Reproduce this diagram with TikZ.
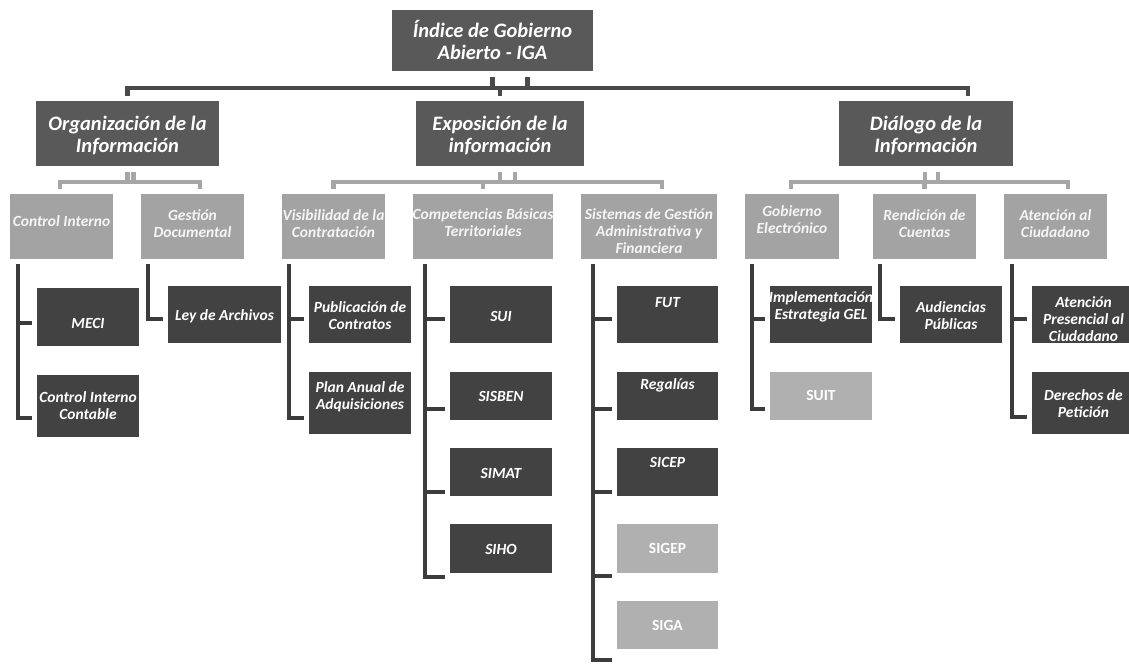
\documentclass[tikz,border=0pt]{standalone}
\usepackage{fontspec}
\setmainfont{Carlito}
\definecolor{rootc}{HTML}{595959}
\definecolor{leafc}{HTML}{424242}
\definecolor{lvlc}{HTML}{A3A3A3}
\definecolor{litec}{HTML}{B0B0B0}
\definecolor{lonec}{HTML}{4A4A4A}
\definecolor{ltwoc}{HTML}{A6A6A6}
\definecolor{brc}{HTML}{3C3C3C}
\tikzset{
 boxbase/.style={inner sep=0pt, outer sep=0pt, draw=none},
 rootbox/.style={boxbase, fill=rootc},
 rootboxT/.style={font=\fontsize{20.5}{22}\selectfont\bfseries\itshape, text=white, align=center, inner sep=0pt},
 lvlbox/.style={boxbase, fill=lvlc},
 lvlboxT/.style={font=\fontsize{15.5}{17}\selectfont\bfseries\itshape, text=white!96!black, align=center, inner sep=0pt},
 leafbox/.style={boxbase, fill=leafc},
 leafboxT/.style={font=\fontsize{15.5}{17}\selectfont\bfseries\itshape, text=white, align=center, inner sep=0pt},
 litebox/.style={boxbase, fill=litec},
 liteboxT/.style={font=\fontsize{15.5}{17}\selectfont\bfseries, text=white, align=center, inner sep=0pt},
 lone/.style={draw=lonec, line width=4.5pt},
 ltwo/.style={draw=ltwoc, line width=4.5pt},
 branch/.style={draw=brc, line width=4.5pt, line join=miter},
}
% style, name, x1, y1, x2, y2, text offset (px down), text
\newcommand\bx[8]{%
 \node[#1, minimum width={(#5-#3)*1pt}, minimum height={(#6-#4)*1pt}] (#2) at ({(#3+#5)/2},{(#4+#6)/2}) {};
 \node[#1T] (#2-t) at ([yshift={-1pt*(#7)}]#2.center) {#8};
}
% trunk coordinate, child, tick offset above child's bottom
\newcommand\br[3]{\draw[branch] (#1) |- ([xshift=-5pt,yshift=#3pt]#2.south west);}
\begin{document}
\begin{tikzpicture}[x=1pt,y=-1pt]
\useasboundingbox (0,0) rectangle (1129,664);
\fill[white] (0,0) rectangle (1129,664);
\clip (0,0) rectangle (1129,664);

% root and level 2
\bx{rootbox}{root}{392}{10}{593}{71}{-1}{Índice de Gobierno\\Abierto - IGA}
\bx{rootbox}{org}{36}{101}{219}{166}{1.5}{Organización de la\\Información}
\bx{rootbox}{exp}{416}{101}{584}{166}{1.5}{Exposición de la\\información}
\bx{rootbox}{dia}{839}{101}{1013}{166}{1.5}{Diálogo de la\\Información}

% level 3
\bx{lvlbox}{ci}{10}{194}{113}{259}{-5.5}{Control Interno}
\bx{lvlbox}{gd}{141}{194}{244}{259}{-3}{Gestión\\Documental}
\bx{lvlbox}{vis}{282}{194}{385}{259}{-3}{Visibilidad de la\\Contratación}
\bx{lvlbox}{comp}{413}{194}{553}{259}{-4}{Competencias Básicas\\Territoriales}
\bx{lvlbox}{sis}{581}{194}{717}{259}{4.5}{Sistemas de Gestión\\Administrativa y\\Financiera}
\bx{lvlbox}{gob}{745}{194}{839}{259}{-7}{Gobierno\\Electrónico}
\bx{lvlbox}{rend}{873}{194}{976}{259}{-3}{Rendición de\\Cuentas}
\bx{lvlbox}{aten}{1004}{194}{1107}{259}{-3}{Atención al\\Ciudadano}

% leaves
\bx{leafbox}{meci}{37}{288}{139}{346}{6}{MECI}
\bx{leafbox}{cic}{37}{375}{139}{437}{0}{Control Interno\\Contable}
\bx{leafbox}{ley}{168}{286}{281}{343}{1.5}{Ley de Archivos}
\bx{leafbox}{pub}{309}{286}{411}{343}{1}{Publicación de\\Contratos}
\bx{leafbox}{plan}{309}{372}{411}{434}{-6.5}{Plan Anual de\\Adquisiciones}
\bx{leafbox}{sui}{450}{286}{552}{343}{2}{SUI}
\bx{leafbox}{sisben}{450}{372}{552}{420}{0.5}{SISBEN}
\bx{leafbox}{simat}{450}{448}{552}{496}{1}{SIMAT}
\bx{leafbox}{siho}{450}{524}{552}{573}{0.5}{SIHO}
\bx{leafbox}{fut}{617}{286}{718}{343}{-11.5}{FUT}
\bx{leafbox}{reg}{617}{372}{718}{420}{-11}{Regalías}
\bx{leafbox}{sicep}{617}{448}{718}{496}{-10}{SICEP}
\bx{litebox}{sigep}{617}{524}{718}{573}{0}{SIGEP}
\bx{litebox}{siga}{617}{601}{718}{649}{0}{SIGA}
\bx{leafbox}{impl}{770}{286}{872}{343}{-7.5}{Implementación\\Estrategia GEL}
\bx{litebox}{suit}{770}{372}{872}{420}{-0.5}{SUIT}
\bx{leafbox}{aud}{900}{286}{1002}{343}{1.5}{Audiencias\\Públicas}
\bx{leafbox}{apc}{1032}{286}{1135}{343}{4.5}{Atención\\Presencial al\\Ciudadano}
\bx{leafbox}{der}{1032}{372}{1135}{434}{1}{Derechos de\\Petición}

% bus lines
\coordinate (busA) at (0,88);
\coordinate (busB) at (0,182);

% root -> level 2
\coordinate (rS1) at ([yshift=-6pt]root.south);
\coordinate (rS2) at ([xshift=35pt,yshift=-6pt]root.south);
\coordinate (orgD) at ([yshift=5pt]org.north);
\coordinate (expD) at ([yshift=5pt]exp.north);
\coordinate (diaD) at ([xshift=42pt,yshift=5pt]dia.north);
\draw[lone] (rS1) -- (rS1 |- busA);
\draw[lone] (orgD) -- (orgD |- busA) -- (rS2 |- busA);
\draw[lone] (rS2) -- (rS2 |- busA) -- (diaD |- busA) -- (diaD);
\draw[lone] (expD) -- (expD |- busA);

% Organizacion -> level 3
\coordinate (oS1) at ([yshift=-6pt]org.south);
\coordinate (oS2) at ([xshift=6pt,yshift=-6pt]org.south);
\coordinate (ciD) at ([xshift=-1.5pt,yshift=5pt]ci.north);
\coordinate (gdD) at ([xshift=7.5pt,yshift=5pt]gd.north);
\draw[ltwo] (oS1) -- (oS1 |- busB);
\draw[ltwo] (oS2) -- (oS2 |- busB);
\draw[ltwo] (ciD) -- (ciD |- busB) -- (gdD |- busB) -- (gdD);

% Exposicion -> level 3
\coordinate (eS1) at ([yshift=-6pt]exp.south);
\coordinate (eS2) at ([xshift=15pt,yshift=-6pt]exp.south);
\coordinate (visD) at ([yshift=5pt]vis.north);
\coordinate (compD) at ([yshift=5pt]comp.north);
\coordinate (sisD) at ([xshift=13pt,yshift=5pt]sis.north);
\draw[ltwo] (eS1) -- (eS1 |- busB);
\draw[ltwo] (eS2) -- (eS2 |- busB);
\draw[ltwo] (visD) -- (visD |- busB) -- (sisD |- busB) -- (sisD);
\draw[ltwo] (compD) -- (compD |- busB);

% Dialogo -> level 3
\coordinate (dS1) at ([xshift=-1pt,yshift=-6pt]dia.south);
\coordinate (dS2) at ([xshift=12pt,yshift=-6pt]dia.south);
\coordinate (gobD) at ([xshift=-1pt,yshift=5pt]gob.north);
\coordinate (rendD) at ([yshift=5pt]rend.north);
\coordinate (atenD) at ([xshift=12.5pt,yshift=5pt]aten.north);
\draw[ltwo] (dS1) -- (dS1 |- busB);
\draw[ltwo] (dS2) -- (dS2 |- busB);
\draw[ltwo] (gobD) -- (gobD |- busB) -- (atenD |- busB) -- (atenD);
\draw[ltwo] (rendD) -- (rendD |- busB);

% branch trunks (level 3 -> leaves)
\coordinate (ciT) at ([xshift=8pt,yshift=-5pt]ci.south west);
\coordinate (gdT) at ([xshift=7pt,yshift=-5pt]gd.south west);
\coordinate (visT) at ([xshift=7pt,yshift=-5pt]vis.south west);
\coordinate (compT) at ([xshift=12pt,yshift=-5pt]comp.south west);
\coordinate (sisT) at ([xshift=12pt,yshift=-5pt]sis.south west);
\coordinate (gobT) at ([xshift=7pt,yshift=-5pt]gob.south west);
\coordinate (rendT) at ([xshift=7pt,yshift=-5pt]rend.south west);
\coordinate (atenT) at ([xshift=8pt,yshift=-5pt]aten.south west);

\br{ciT}{meci}{23}
\br{ciT}{cic}{19}
\br{gdT}{ley}{24}
\br{visT}{pub}{24}
\br{visT}{plan}{16}
\br{compT}{sui}{24}
\br{compT}{sisben}{11}
\br{compT}{simat}{4}
\br{compT}{siho}{-4}
\br{sisT}{fut}{24}
\br{sisT}{reg}{11}
\br{sisT}{sicep}{4}
\br{sisT}{sigep}{-3}
\br{sisT}{siga}{-11}
\br{gobT}{impl}{24}
\br{gobT}{suit}{11}
\br{rendT}{aud}{24}
\br{atenT}{apc}{24}
\br{atenT}{der}{17}
\end{tikzpicture}
\end{document}
